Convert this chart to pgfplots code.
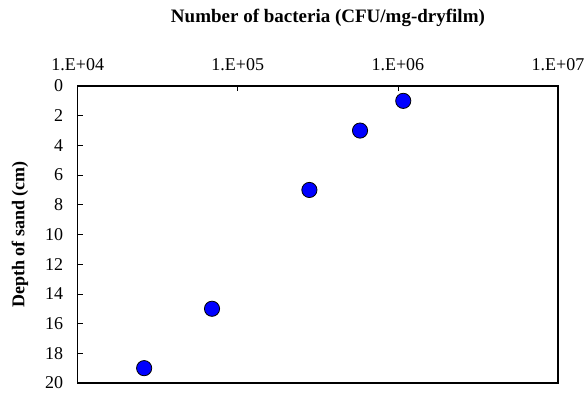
\documentclass[border=0pt]{standalone}
\usepackage{pgfplots}
\pgfplotsset{compat=1.18}
\usepackage{fontspec}
\setmainfont{Liberation Serif}
\begin{document}
\begin{tikzpicture}
\path[use as bounding box] (0,0) rectangle (586pt,394pt);
\begin{axis}[
  at={(77.7pt,11pt)}, anchor=south west,
  scale only axis,
  width=480.3pt, height=297pt,
  xmode=log, xmin=1e4, xmax=1e7,
  ymin=0, ymax=20, y dir=reverse,
  xtick={1e4,1e5,1e6,1e7},
  xticklabels={1.E+04,1.E+05,1.E+06,1.E+07},
  xminorticks=false,
  ytick={0,2,...,20},
  xtick pos=right, xticklabel pos=right,
  ytick pos=left,
  tick align=inside,
  major tick length=5pt,
  tick style={black, line width=0.8pt},
  axis line style={line width=1.1pt, black},
  /pgf/number format/assume math mode=true,
  tick label style={font=\fontsize{18}{20}\selectfont},
  xticklabel style={yshift=12pt},
  yticklabel style={xshift=-11pt},
  title={\textbf{Number of bacteria (CFU/mg-dryfilm)}},
  title style={at={(axis description cs:0.521,1.209)}, anchor=center, font=\fontsize{19}{21}\selectfont},
  ylabel={\textbf{Depth of sand (cm)}},
  ylabel style={at={(axis description cs:-0.12,0.5)}, anchor=center, font=\fontsize{18}{20}\selectfont},
]
\addplot[only marks, mark=*, mark size=7.6pt, mark options={fill=blue, draw=black, line width=0.8pt}]
coordinates {
(2.6e4,19)
(6.9e4,15)
(2.8e5,7)
(5.8e5,3)
(1.08e6,1)
};
\end{axis}
\end{tikzpicture}
\end{document}
